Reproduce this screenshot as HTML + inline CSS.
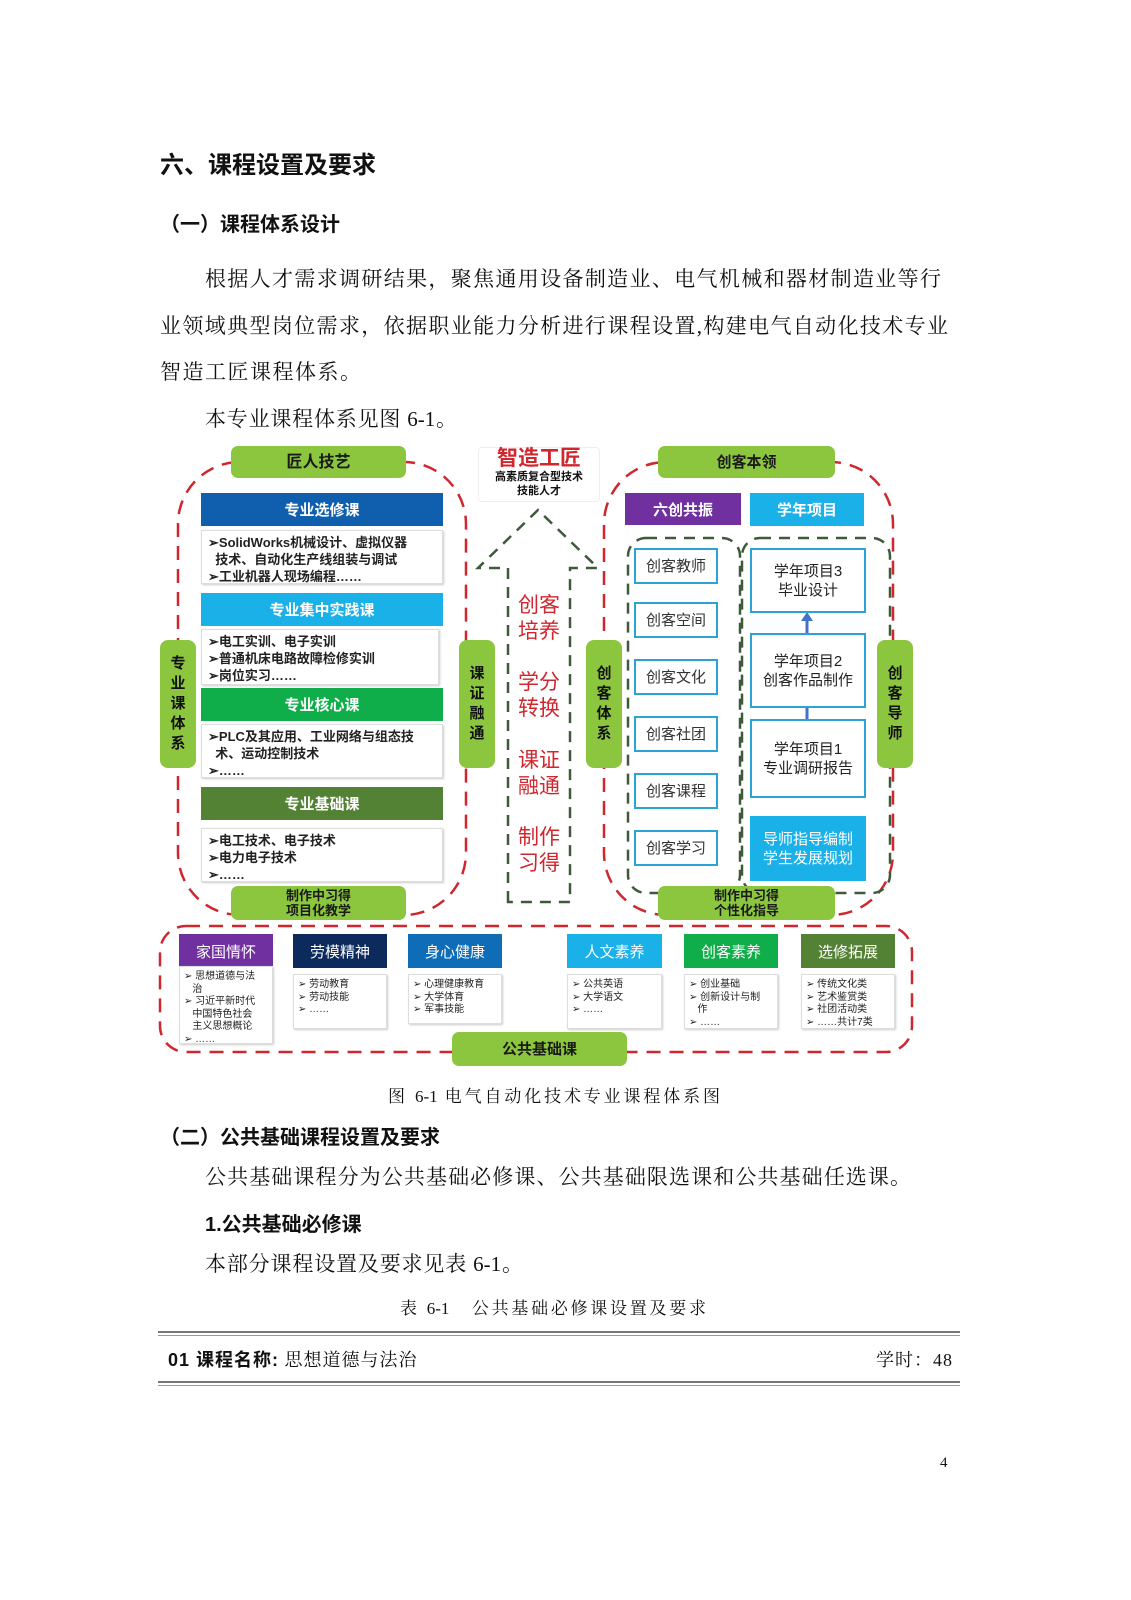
<!DOCTYPE html>
<html><head><meta charset="utf-8"><style>
body{margin:0;width:1131px;height:1600px;background:#fff;position:relative;font-family:"Liberation Serif","Noto Serif CJK SC",serif;color:#111;overflow:hidden}
.a{position:absolute;white-space:nowrap}
.j{text-align:justify;text-align-last:justify}
.h{font-family:"Liberation Sans","Noto Sans CJK SC",sans-serif}
.p{font-size:21px;line-height:24px}
.bar{position:absolute;color:#fff;font-family:"Liberation Sans","Noto Sans CJK SC",sans-serif;font-weight:bold;font-size:15px;text-align:center;display:flex;align-items:center;justify-content:center}
.pill{position:absolute;background:#8cc63f;border-radius:7px;font-family:"Liberation Sans","Noto Sans CJK SC",sans-serif;font-weight:bold;color:#1a1a1a;text-align:center;display:flex;align-items:center;justify-content:center;flex-direction:column;line-height:15px}
.vp{position:absolute;background:#8cc63f;border-radius:8px;font-family:"Liberation Sans","Noto Sans CJK SC",sans-serif;font-weight:bold;font-size:15px;line-height:20px;text-align:center;display:flex;align-items:center;justify-content:center;color:#111}
.box{position:absolute;background:#fff;border:1px solid #ddd;box-shadow:1px 1px 2px #ccc;font-family:"Liberation Sans","Noto Sans CJK SC",sans-serif;font-weight:bold;font-size:13px;line-height:17px;color:#222;padding:3px 6px;box-sizing:border-box;white-space:normal}
.cb{position:absolute;background:#fff;border:2px solid #2ba3d6;font-family:"Liberation Sans","Noto Sans CJK SC",sans-serif;font-size:15px;color:#333;text-align:center;display:flex;align-items:center;justify-content:center;box-sizing:border-box;line-height:19px}
.sb{position:absolute;background:#fff;border:1px solid #ddd;box-shadow:1px 1px 2px #ccc;font-family:"Liberation Sans","Noto Sans CJK SC",sans-serif;font-size:10px;line-height:12.5px;color:#222;padding:4px 4px;box-sizing:border-box;white-space:normal}
.red{position:absolute;color:#d0262d;font-family:"Liberation Sans","Noto Sans CJK SC",sans-serif;font-size:21px;line-height:26px;text-align:center;width:60px}
</style></head><body>
<div class="a h" style="left:160px;top:145px;font-size:24px;font-weight:bold">六、课程设置及要求</div>
<div class="a h" style="left:160px;top:208px;font-size:20px;font-weight:bold">（一）课程体系设计</div>
<div class="a p j" style="left:205px;top:267px;width:736px">根据人才需求调研结果，聚焦通用设备制造业、电气机械和器材制造业等行</div>
<div class="a p j" style="left:160px;top:314px;width:788px">业领域典型岗位需求，依据职业能力分析进行课程设置,构建电气自动化技术专业</div>
<div class="a p" style="left:160px;top:360px;letter-spacing:1.5px">智造工匠课程体系。</div>
<div class="a p j" style="left:205px;top:407px;width:252px">本专业课程体系见图 6-1。</div>

<svg class="a" style="left:0;top:0" width="1131" height="1100">
<rect x="178" y="462" width="288" height="453" rx="62" fill="none" stroke="#d0262d" stroke-width="2.5" stroke-dasharray="14,9"/>
<rect x="604" y="462" width="289" height="453" rx="62" fill="none" stroke="#d0262d" stroke-width="2.5" stroke-dasharray="14,9"/>
<rect x="160" y="926" width="752" height="126" rx="26" fill="none" stroke="#d0262d" stroke-width="2.5" stroke-dasharray="14,9"/>
<path d="M508 902 V568 H478 L538 510 L598 568 H570 V902 Z" fill="none" stroke="#3e5a3a" stroke-width="2.5" stroke-dasharray="11,8"/>
<rect x="628" y="538" width="112" height="355" rx="18" fill="none" stroke="#3e5a3a" stroke-width="2.5" stroke-dasharray="11,8"/>
<rect x="742" y="538" width="148" height="355" rx="18" fill="none" stroke="#3e5a3a" stroke-width="2.5" stroke-dasharray="11,8"/>
<line x1="807" y1="633" x2="807" y2="618" stroke="#4472c4" stroke-width="3"/><path d="M801 621 L807 612 L813 621Z" fill="#4472c4"/>
<line x1="807" y1="719" x2="807" y2="704" stroke="#4472c4" stroke-width="3"/><path d="M801 707 L807 698 L813 707Z" fill="#4472c4"/>
</svg>

<div class="pill" style="left:231px;top:446px;width:175px;height:32px;font-size:16px">匠人技艺</div>
<div class="bar" style="left:201px;top:493px;width:242px;height:33px;background:#0f5fae">专业选修课</div>
<div class="box" style="left:201px;top:530px;width:242px;height:54px">➢SolidWorks机械设计、虚拟仪器<br>&nbsp;&nbsp;技术、自动化生产线组装与调试<br>➢工业机器人现场编程……</div>
<div class="bar" style="left:201px;top:593px;width:242px;height:33px;background:#1ab0e8">专业集中实践课</div>
<div class="box" style="left:201px;top:629px;width:238px;height:56px">➢电工实训、电子实训<br>➢普通机床电路故障检修实训<br>➢岗位实习……</div>
<div class="bar" style="left:201px;top:688px;width:242px;height:33px;background:#0fae4a">专业核心课</div>
<div class="box" style="left:201px;top:724px;width:242px;height:54px">➢PLC及其应用、工业网络与组态技<br>&nbsp;&nbsp;术、运动控制技术<br>➢……</div>
<div class="bar" style="left:201px;top:787px;width:242px;height:33px;background:#548235">专业基础课</div>
<div class="box" style="left:201px;top:828px;width:242px;height:54px">➢电工技术、电子技术<br>➢电力电子技术<br>➢……</div>
<div class="vp" style="left:160px;top:640px;width:36px;height:128px">专<br>业<br>课<br>体<br>系</div>
<div class="vp" style="left:459px;top:640px;width:36px;height:128px">课<br>证<br>融<br>通</div>
<div class="pill" style="left:231px;top:886px;width:175px;height:34px;font-size:13px">制作中习得<br>项目化教学</div>

<div class="a h" style="left:478px;top:447px;width:120px;height:53px;border:1px solid #eee;border-radius:4px;text-align:center;background:#fff">
<div style="color:#d0262d;font-size:21px;font-weight:bold;line-height:22px">智造工匠</div>
<div style="font-size:11px;font-weight:bold;line-height:14px">高素质复合型技术<br>技能人才</div></div>
<div class="red" style="left:509px;top:593px">创客<br>培养</div>
<div class="red" style="left:509px;top:670px">学分<br>转换</div>
<div class="red" style="left:509px;top:748px">课证<br>融通</div>
<div class="red" style="left:509px;top:825px">制作<br>习得</div>

<div class="pill" style="left:658px;top:446px;width:177px;height:32px;font-size:15px">创客本领</div>
<div class="bar" style="left:625px;top:493px;width:116px;height:32px;background:#7030a0">六创共振</div>
<div class="bar" style="left:750px;top:493px;width:114px;height:33px;background:#1ab0e8">学年项目</div>
<div class="cb" style="left:634px;top:548px;width:84px;height:36px">创客教师</div>
<div class="cb" style="left:634px;top:602px;width:84px;height:36px">创客空间</div>
<div class="cb" style="left:634px;top:659px;width:84px;height:36px">创客文化</div>
<div class="cb" style="left:634px;top:716px;width:84px;height:36px">创客社团</div>
<div class="cb" style="left:634px;top:773px;width:84px;height:36px">创客课程</div>
<div class="cb" style="left:634px;top:830px;width:84px;height:36px">创客学习</div>
<div class="cb" style="left:750px;top:548px;width:116px;height:65px;color:#222">学年项目3<br>毕业设计</div>
<div class="cb" style="left:750px;top:633px;width:116px;height:75px;color:#222">学年项目2<br>创客作品制作</div>
<div class="cb" style="left:750px;top:719px;width:116px;height:79px;color:#222">学年项目1<br>专业调研报告</div>
<div class="cb" style="left:750px;top:816px;width:116px;height:65px;background:#1ab0e8;color:#fff;border-color:#1ab0e8">导师指导编制<br>学生发展规划</div>
<div class="vp" style="left:586px;top:640px;width:36px;height:128px">创<br>客<br>体<br>系</div>
<div class="vp" style="left:877px;top:640px;width:36px;height:128px">创<br>客<br>导<br>师</div>
<div class="pill" style="left:658px;top:886px;width:177px;height:34px;font-size:13px">制作中习得<br>个性化指导</div>

<div class="bar" style="left:179px;top:934px;width:94px;height:34px;background:#7030a0;font-weight:normal;font-size:15px">家国情怀</div>
<div class="bar" style="left:293px;top:934px;width:94px;height:34px;background:#0c2a5c;font-weight:normal;font-size:15px">劳模精神</div>
<div class="bar" style="left:408px;top:934px;width:94px;height:34px;background:#0f6cb6;font-weight:normal;font-size:15px">身心健康</div>
<div class="bar" style="left:567px;top:934px;width:95px;height:34px;background:#1ab0e8;font-weight:normal;font-size:15px">人文素养</div>
<div class="bar" style="left:684px;top:934px;width:94px;height:34px;background:#0fae4a;font-weight:normal;font-size:15px">创客素养</div>
<div class="bar" style="left:801px;top:934px;width:94px;height:34px;background:#548235;font-weight:normal;font-size:15px">选修拓展</div>
<div class="sb" style="left:179px;top:966px;width:94px;height:78px">➢ 思想道德与法<br>&nbsp;&nbsp;&nbsp;治<br>➢ 习近平新时代<br>&nbsp;&nbsp;&nbsp;中国特色社会<br>&nbsp;&nbsp;&nbsp;主义思想概论<br>➢ ……</div>
<div class="sb" style="left:293px;top:974px;width:94px;height:55px">➢ 劳动教育<br>➢ 劳动技能<br>➢ ……</div>
<div class="sb" style="left:408px;top:974px;width:94px;height:50px">➢ 心理健康教育<br>➢ 大学体育<br>➢ 军事技能</div>
<div class="sb" style="left:567px;top:974px;width:95px;height:55px">➢ 公共英语<br>➢ 大学语文<br>➢ ……</div>
<div class="sb" style="left:684px;top:974px;width:94px;height:55px">➢ 创业基础<br>➢ 创新设计与制<br>&nbsp;&nbsp;&nbsp;作<br>➢ ……</div>
<div class="sb" style="left:801px;top:974px;width:94px;height:55px">➢ 传统文化类<br>➢ 艺术鉴赏类<br>➢ 社团活动类<br>➢ ……共计7类</div>
<div class="pill" style="left:452px;top:1032px;width:175px;height:34px;font-size:15px">公共基础课</div>

<div class="a j" style="left:388px;width:332px;top:1082px;font-size:17px">图 6-1 电气自动化技术专业课程体系图</div>
<div class="a h" style="left:160px;top:1121px;font-size:20px;font-weight:bold">（二）公共基础课程设置及要求</div>
<div class="a p j" style="left:205px;top:1165px;width:706px">公共基础课程分为公共基础必修课、公共基础限选课和公共基础任选课。</div>
<div class="a h" style="left:205px;top:1208px;font-size:20px;font-weight:bold">1.公共基础必修课</div>
<div class="a p j" style="left:205px;top:1252px;width:318px">本部分课程设置及要求见表 6-1。</div>
<div class="a j" style="left:400px;width:306px;top:1294px;font-size:17px">表 6-1　公共基础必修课设置及要求</div>
<div class="a" style="left:158px;top:1331px;width:802px;height:2px;background:#777"></div>
<div class="a" style="left:158px;top:1335px;width:802px;height:1px;background:#999"></div>
<div class="a" style="left:168px;top:1346px;font-size:18px;letter-spacing:1px"><b class="h">01 课程名称:</b> 思想道德与法治</div>
<div class="a" style="left:876px;top:1346px;font-size:18px;letter-spacing:1px">学时：48</div>
<div class="a" style="left:158px;top:1381px;width:802px;height:2px;background:#777"></div>
<div class="a" style="left:158px;top:1385px;width:802px;height:1px;background:#999"></div>
<div class="a" style="left:940px;top:1455px;font-size:15px">4</div>
</body></html>
